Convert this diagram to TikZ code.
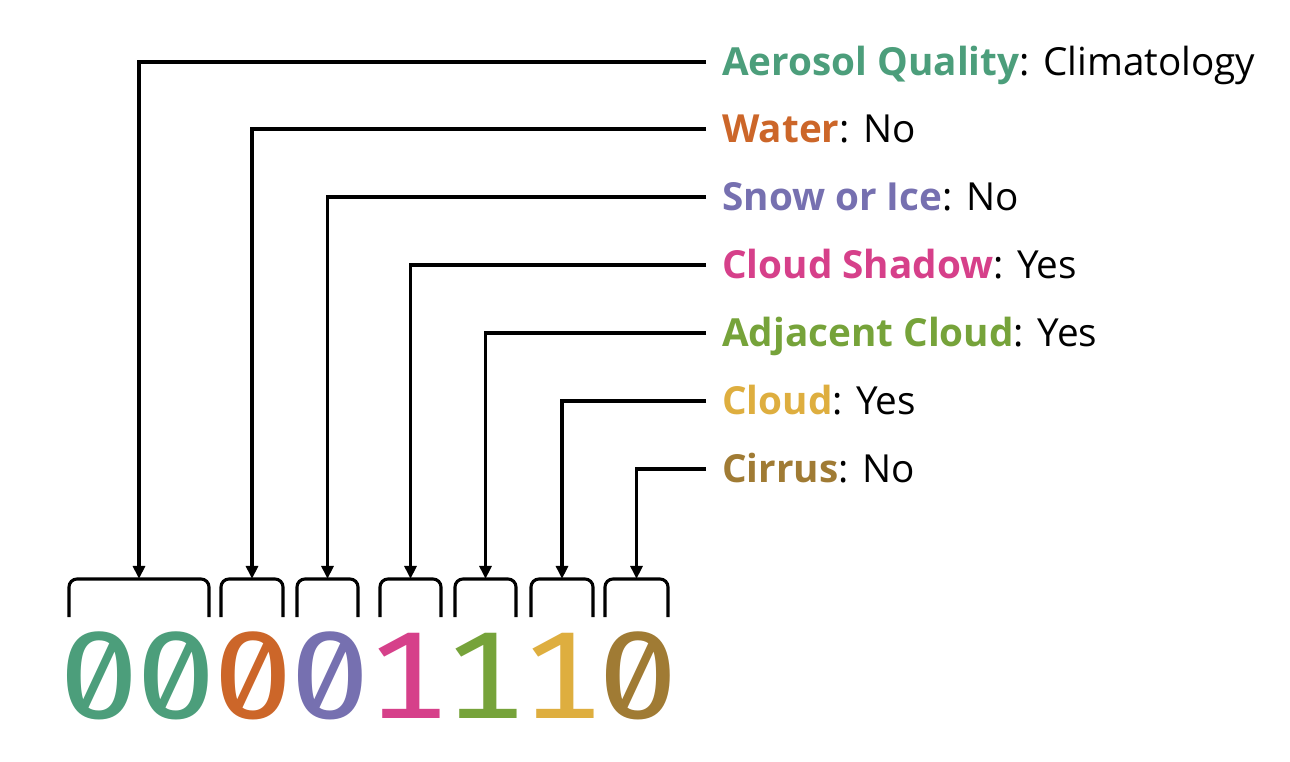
\documentclass[tikz,border=0pt]{standalone}
\usepackage{fontspec}
\setmainfont{Open Sans}
\newfontfamily\bitfont[RawFeature={+zero;+tnum}]{Fira Sans}
\usetikzlibrary{arrows.meta}

\definecolor{aerosolc}{HTML}{4C9E7B}
\definecolor{waterc}{HTML}{CC6629}
\definecolor{snowc}{HTML}{7670B0}
\definecolor{shadowc}{HTML}{D6408A}
\definecolor{adjc}{HTML}{76A33A}
\definecolor{cloudc}{HTML}{DEAE3F}
\definecolor{cirrusc}{HTML}{A07B34}

\begin{document}
\begin{tikzpicture}[
    x=0.025cm, y=-0.025cm,
    link/.style={draw, line width=2.2pt, -{Triangle[length=0.33cm, width=0.3cm]}},
    brace/.style={draw, line width=2.2pt, rounded corners=0.2cm},
    flag/.style={anchor=west, inner xsep=0.4cm, inner ysep=0pt, text height=0.69cm,
        text depth=0pt, font=\fontsize{27.5}{32}\selectfont},
    bit/.style={anchor=base, inner sep=0pt, xscale=1.15, transform shape,
        font=\bitfont\fontsize{88}{100}\selectfont}
]
    \useasboundingbox (0,0) rectangle (1290,762);

    % the bits
    \foreach \c/\d [count=\i from 0] in {aerosolc/0, aerosolc/0, waterc/0, snowc/0,
        shadowc/1, adjc/1, cloudc/1, cirrusc/0}
        \node[bit, text=\c] (d\i) at (99+77*\i, 718) {\d};

    % brackets over each field
    \foreach \l/\r [count=\n] in {69/209, 221/283, 297/358, 380/441, 455/516, 531/593, 605/668} {
        \draw[brace] (\l,617) -- (\l,579) -- (\r,579) -- (\r,617);
        \coordinate (top\n) at ({(\l+\r)/2},579);
    }

    % flag labels
    \node[flag] (f1) at (706,62)  {\textbf{\color{aerosolc}Aerosol Quality}: Climatology};
    \node[flag] (f2) at (706,129) {\textbf{\color{waterc}Water}: No};
    \node[flag] (f3) at (706,197) {\textbf{\color{snowc}Snow or Ice}: No};
    \node[flag] (f4) at (706,265) {\textbf{\color{shadowc}Cloud Shadow}: Yes};
    \node[flag] (f5) at (706,333) {\textbf{\color{adjc}Adjacent Cloud}: Yes};
    \node[flag] (f6) at (706,401) {\textbf{\color{cloudc}Cloud}: Yes};
    \node[flag] (f7) at (706,469) {\textbf{\color{cirrusc}Cirrus}: No};

    \foreach \n in {1,...,7}
        \draw[link] (f\n.west) -| (top\n);
\end{tikzpicture}
\end{document}
